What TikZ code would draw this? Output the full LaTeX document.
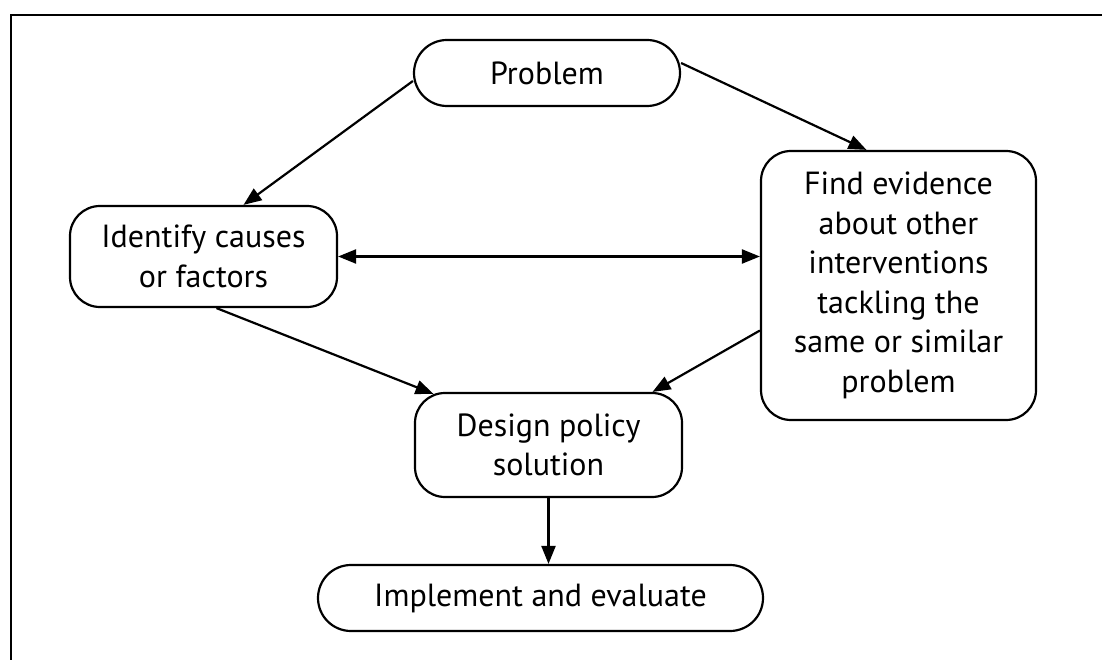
\documentclass[tikz,border=0pt]{standalone}
\usepackage{fontspec}
\setmainfont{PT Sans}
\usetikzlibrary{arrows.meta,shapes.misc}
\begin{document}
\begin{tikzpicture}[x=1pt,y=-1pt,
  txt/.style={align=center,inner sep=0pt,line width=2.2pt,draw,font=\fontsize{32}{39.5}\selectfont},
  box/.style={txt,rounded corners=30pt},
  pill/.style={txt,rounded rectangle},
  tip/.tip={Triangle[length=18pt,width=14pt]},
  arr/.style={line width=2.2pt,-tip}]
\useasboundingbox (0,0) rectangle (1102,660);
\draw[line width=2.8pt] (11,660) -- (11,15) -- (1102,15);
\node[pill,minimum width=266pt,minimum height=66pt] (pb) at (547,73) {Problem};
\node[box,minimum width=267pt,minimum height=101pt] (id) at (203.5,256.5) {Identify causes\\or factors};
\node[box,minimum width=275pt,minimum height=269pt] (fe) at (898.5,285.5) {Find evidence\\about other\\interventions\\tackling the\\same or similar\\problem};
\node[box,minimum width=267pt,minimum height=104pt] (dp) at (548.5,445) {Design policy\\solution};
\node[pill,minimum width=445pt,minimum height=66pt] (ie) at (540.5,598) {Implement and evaluate};
\draw[arr] ([yshift=-8pt]pb.west) -- ([xshift=40pt]id.north);
\draw[arr] ([yshift=10pt]pb.east) -- ([xshift=-32pt]fe.north);
\draw[arr,tip-tip] (id.east) -- (id.east -| fe.west);
\draw[arr] ([xshift=13pt]id.south) -- ([xshift=-115pt,yshift=-2pt]dp.north);
\draw[arr] ([yshift=-45pt]fe.west) -- ([xshift=104pt]dp.north);
\draw[arr] (dp.south) -- (dp.south |- ie.north);
\end{tikzpicture}
\end{document}
